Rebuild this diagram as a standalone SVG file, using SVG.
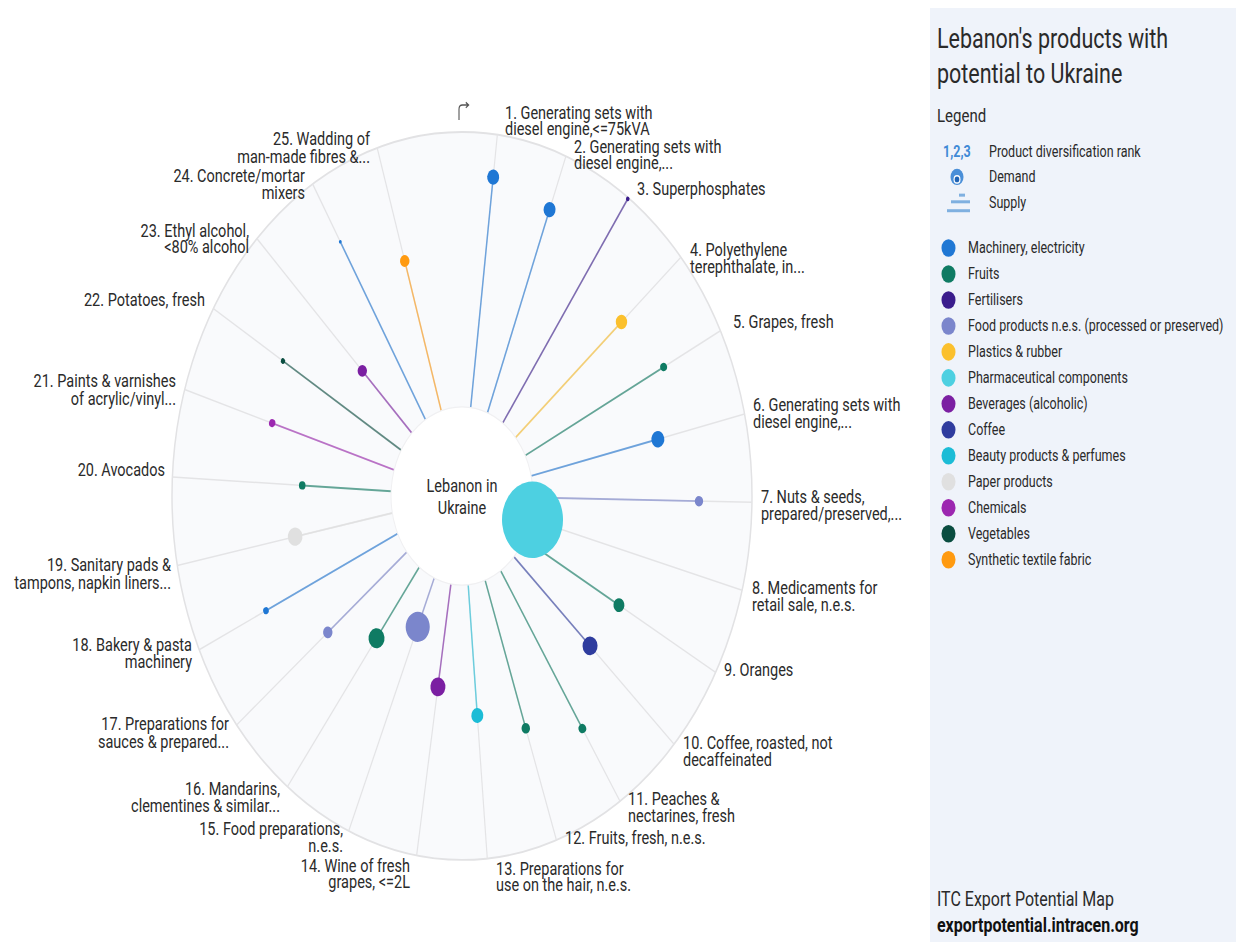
<svg xmlns="http://www.w3.org/2000/svg" width="1236" height="942" viewBox="0 0 1236 942">
<style>
text{font-family:Roboto,"Liberation Sans",sans-serif;fill:#2a2a2a}
.lb{font-size:14.5px}
.le{text-anchor:end}
.lg{font-size:12.5px}
.sp{stroke:#e4e4e6;stroke-width:1.2}
.ln{stroke-width:1.5;stroke-opacity:.6;fill:none}
.mach{fill:#1f77d4;stroke:#1f77d4}
.fruit{fill:#0f7b63;stroke:#0f7b63}
.fert{fill:#3a1c8c;stroke:#3a1c8c}
.food{fill:#7b86cc;stroke:#7b86cc}
.plas{fill:#fbc02d;stroke:#fbc02d}
.pharma{fill:#4dd0e1;stroke:#4dd0e1}
.bev{fill:#7b1fa2;stroke:#7b1fa2}
.coffee{fill:#2f3c9e;stroke:#2f3c9e}
.beauty{fill:#1cbcd6;stroke:#1cbcd6}
.paper{fill:#e0e0e0;stroke:#e0e0e0}
.chem{fill:#9c27b0;stroke:#9c27b0}
.veg{fill:#0a4d40;stroke:#0a4d40}
.synth{fill:#ff9a10;stroke:#ff9a10}
circle.d{stroke:none}
</style>
<rect width="1236" height="942" fill="#ffffff"/>
<g transform="scale(1 1.255)">
  <!-- legend panel -->
  <rect x="930" y="6.4" width="306" height="745" fill="#eff3fa"/>
  <g id="legend">
    <text x="937" y="38.2" font-size="21.5">Lebanon's products with</text>
    <text x="937" y="66.1" font-size="21.5">potential to Ukraine</text>
    <text x="937" y="97.2" font-size="15">Legend</text>
    <text x="943" y="125.1" class="lg" font-weight="bold" style="fill:#3f8ad6">1,2,3</text>
    <text x="989" y="125.1" class="lg">Product diversification rank</text>
    <circle cx="957" cy="141" r="6.5" fill="#4a8fd8"/>
    <circle cx="957" cy="143" r="3.5" fill="#ffffff"/>
    <circle cx="957" cy="143" r="2.3" fill="#1f63b4"/>
    <text x="989" y="145" class="lg">Demand</text>
    <g stroke="#7fb0e0" stroke-width="2.4">
      <line x1="959" y1="155.5" x2="965" y2="155.5"/>
      <line x1="951" y1="160.8" x2="970" y2="160.8"/>
      <line x1="947" y1="167.9" x2="970" y2="167.9"/>
    </g>
    <text x="989" y="165.7" class="lg">Supply</text>
    <circle class="d mach" cx="948.5" cy="197.6" r="7"/><text x="968" y="201.9" class="lg">Machinery, electricity</text>
    <circle class="d fruit" cx="948.5" cy="218.3" r="7"/><text x="968" y="222.6" class="lg">Fruits</text>
    <circle class="d fert" cx="948.5" cy="239" r="7"/><text x="968" y="243.3" class="lg">Fertilisers</text>
    <circle class="d food" cx="948.5" cy="259.7" r="7"/><text x="968" y="264" class="lg">Food products n.e.s. (processed or preserved)</text>
    <circle class="d plas" cx="948.5" cy="280.4" r="7"/><text x="968" y="284.7" class="lg">Plastics &amp; rubber</text>
    <circle class="d pharma" cx="948.5" cy="301.1" r="7"/><text x="968" y="305.4" class="lg">Pharmaceutical components</text>
    <circle class="d bev" cx="948.5" cy="321.8" r="7"/><text x="968" y="326.1" class="lg">Beverages (alcoholic)</text>
    <circle class="d coffee" cx="948.5" cy="342.5" r="7"/><text x="968" y="346.8" class="lg">Coffee</text>
    <circle class="d beauty" cx="948.5" cy="363.2" r="7"/><text x="968" y="367.5" class="lg">Beauty products &amp; perfumes</text>
    <circle class="d paper" cx="948.5" cy="383.9" r="7"/><text x="968" y="388.2" class="lg">Paper products</text>
    <circle class="d chem" cx="948.5" cy="404.6" r="7"/><text x="968" y="408.9" class="lg">Chemicals</text>
    <circle class="d veg" cx="948.5" cy="425.3" r="7"/><text x="968" y="429.6" class="lg">Vegetables</text>
    <circle class="d synth" cx="948.5" cy="446" r="7"/><text x="968" y="450.3" class="lg">Synthetic textile fabric</text>
    <text x="937" y="721.9" font-size="16">ITC Export Potential Map</text>
    <text x="937" y="742.6" font-size="16" font-weight="bold" style="fill:#111">exportpotential.intracen.org</text>
  </g>

  <!-- chart base -->
  <circle cx="462" cy="395.2" r="290" fill="#f9fafc" stroke="#e2e2e4" stroke-width="1.5"/>
  <path d="M459 95.6 V87 Q459 83.7 462.5 83.7 H468 M465.8 81.6 L468.6 83.7 L465.8 85.8" fill="none" stroke="#555" stroke-width="1.1"/>

  <g id="connectors" transform="translate(462 395.2)">
    <line class="sp" transform="rotate(7)" y1="-71" y2="-290"/>
    <line class="sp" transform="rotate(21)" y1="-71" y2="-290"/>
    <line class="sp" transform="rotate(35)" y1="-71" y2="-290"/>
    <line class="sp" transform="rotate(49)" y1="-71" y2="-290"/>
    <line class="sp" transform="rotate(63)" y1="-71" y2="-290"/>
    <line class="sp" transform="rotate(77)" y1="-71" y2="-290"/>
    <line class="sp" transform="rotate(91)" y1="-71" y2="-290"/>
    <line class="sp" transform="rotate(105)" y1="-71" y2="-290"/>
    <line class="sp" transform="rotate(119)" y1="-71" y2="-290"/>
    <line class="sp" transform="rotate(133)" y1="-71" y2="-290"/>
    <line class="sp" transform="rotate(147)" y1="-71" y2="-290"/>
    <line class="sp" transform="rotate(161)" y1="-71" y2="-290"/>
    <line class="sp" transform="rotate(175)" y1="-71" y2="-290"/>
    <line class="sp" transform="rotate(189)" y1="-71" y2="-290"/>
    <line class="sp" transform="rotate(203)" y1="-71" y2="-290"/>
    <line class="sp" transform="rotate(217)" y1="-71" y2="-290"/>
    <line class="sp" transform="rotate(231)" y1="-71" y2="-290"/>
    <line class="sp" transform="rotate(245)" y1="-71" y2="-290"/>
    <line class="sp" transform="rotate(259)" y1="-71" y2="-290"/>
    <line class="sp" transform="rotate(273)" y1="-71" y2="-290"/>
    <line class="sp" transform="rotate(287)" y1="-71" y2="-290"/>
    <line class="sp" transform="rotate(301)" y1="-71" y2="-290"/>
    <line class="sp" transform="rotate(315)" y1="-71" y2="-290"/>
    <line class="sp" transform="rotate(329)" y1="-71" y2="-290"/>
    <line class="sp" transform="rotate(343)" y1="-71" y2="-290"/>

    <line class="ln mach" transform="rotate(7)" y1="-71" y2="-256"/>
    <line class="ln mach" transform="rotate(21)" y1="-71" y2="-244.4"/>
    <line class="ln fert" transform="rotate(35)" y1="-71" y2="-289"/>
    <line class="ln plas" transform="rotate(49)" y1="-71" y2="-211.3"/>
    <line class="ln fruit" transform="rotate(63)" y1="-71" y2="-226.3"/>
    <line class="ln mach" transform="rotate(77)" y1="-71" y2="-201"/>
    <line class="ln food" transform="rotate(91)" y1="-71" y2="-237"/>
    <line class="ln fruit" transform="rotate(119)" y1="-71" y2="-179.4"/>
    <line class="ln coffee" transform="rotate(133)" y1="-71" y2="-175.1"/>
    <line class="ln fruit" transform="rotate(147)" y1="-71" y2="-221"/>
    <line class="ln fruit" transform="rotate(161)" y1="-71" y2="-195.8"/>
    <line class="ln beauty" transform="rotate(175)" y1="-71" y2="-175.6"/>
    <line class="ln bev" transform="rotate(189)" y1="-71" y2="-154"/>
    <line class="ln food" transform="rotate(203)" y1="-71" y2="-113.3"/>
    <line class="ln fruit" transform="rotate(217)" y1="-71" y2="-142"/>
    <line class="ln food" transform="rotate(231)" y1="-71" y2="-172.7"/>
    <line class="ln mach" transform="rotate(245)" y1="-71" y2="-216.3"/>
    <line class="ln paper" transform="rotate(259)" y1="-71" y2="-170"/>
    <line class="ln fruit" transform="rotate(273)" y1="-71" y2="-160"/>
    <line class="ln chem" transform="rotate(287)" y1="-71" y2="-198.5"/>
    <line class="ln veg" transform="rotate(301)" y1="-71" y2="-208.8"/>
    <line class="ln bev" transform="rotate(315)" y1="-71" y2="-141"/>
    <line class="ln mach" transform="rotate(329)" y1="-71" y2="-236.3"/>
    <line class="ln synth" transform="rotate(343)" y1="-71" y2="-195.8"/>
  </g>

  <g id="center">
    <circle cx="462" cy="395.2" r="71" fill="#ffffff" stroke="#f0f0f2" stroke-width="1"/>
    <text class="lb" x="462" y="392" text-anchor="middle">Lebanon in<tspan x="462" y="409.6">Ukraine</tspan></text>
  </g>

  <g id="n1"><circle class="d mach" transform="translate(462 395.2) rotate(7)" cy="-256" r="6"/><text class="lb" x="505" y="94.8">1. Generating sets with<tspan x="505" y="107.6">diesel engine,&lt;=75kVA</tspan></text></g>
  <g id="n2"><circle class="d mach" transform="translate(462 395.2) rotate(21)" cy="-244.4" r="6"/><text class="lb" x="574" y="121.9">2. Generating sets with<tspan x="574" y="134.7">diesel engine,...</tspan></text></g>
  <g id="n3"><circle class="d fert" transform="translate(462 395.2) rotate(35)" cy="-289" r="1.8"/><text class="lb" x="637" y="155.4">3. Superphosphates</text></g>
  <g id="n4"><circle class="d plas" transform="translate(462 395.2) rotate(49)" cy="-211.3" r="5.7"/><text class="lb" x="690" y="204">4. Polyethylene<tspan x="690" y="217.5">terephthalate, in...</tspan></text></g>
  <g id="n5"><circle class="d fruit" transform="translate(462 395.2) rotate(63)" cy="-226.3" r="3.4"/><text class="lb" x="733" y="261.4">5. Grapes, fresh</text></g>
  <g id="n6"><circle class="d mach" transform="translate(462 395.2) rotate(77)" cy="-201" r="6.5"/><text class="lb" x="753" y="327.5">6. Generating sets with<tspan x="753" y="341">diesel engine,...</tspan></text></g>
  <g id="n7"><circle class="d food" transform="translate(462 395.2) rotate(91)" cy="-237" r="4.2"/><text class="lb" x="761" y="400.8">7. Nuts &amp; seeds,<tspan x="761" y="414.3">prepared/preserved,...</tspan></text></g>
  <g id="n8"><circle class="d pharma" transform="translate(462 395.2) rotate(105)" cy="-73" r="30.5"/><text class="lb" x="752" y="473.3">8. Medicaments for<tspan x="752" y="486.9">retail sale, n.e.s.</tspan></text></g>
  <g id="n9"><circle class="d fruit" transform="translate(462 395.2) rotate(119)" cy="-179.4" r="5.5"/><text class="lb" x="724" y="538.6">9. Oranges</text></g>
  <g id="n10"><circle class="d coffee" transform="translate(462 395.2) rotate(133)" cy="-175.1" r="7.5"/><text class="lb" x="683" y="596.8">10. Coffee, roasted, not<tspan x="683" y="610.4">decaffeinated</tspan></text></g>
  <g id="n11"><circle class="d fruit" transform="translate(462 395.2) rotate(147)" cy="-221" r="3.8"/><text class="lb" x="628" y="641.4">11. Peaches &amp;<tspan x="628" y="655">nectarines, fresh</tspan></text></g>
  <g id="n12"><circle class="d fruit" transform="translate(462 395.2) rotate(161)" cy="-195.8" r="4.2"/><text class="lb" x="565" y="672.5">12. Fruits, fresh, n.e.s.</text></g>
  <g id="n13"><circle class="d beauty" transform="translate(462 395.2) rotate(175)" cy="-175.6" r="6"/><text class="lb" x="496" y="697.2">13. Preparations for<tspan x="496" y="710">use on the hair, n.e.s.</tspan></text></g>
  <g id="n14"><circle class="d bev" transform="translate(462 395.2) rotate(189)" cy="-154" r="7.5"/><text class="lb le" x="410" y="694.8">14. Wine of fresh<tspan x="410" y="707.6">grapes, &lt;=2L</tspan></text></g>
  <g id="n15"><circle class="d food" transform="translate(462 395.2) rotate(203)" cy="-113.3" r="12"/><text class="lb le" x="343" y="665.3">15. Food preparations,<tspan x="343" y="678.9">n.e.s.</tspan></text></g>
  <g id="n16"><circle class="d fruit" transform="translate(462 395.2) rotate(217)" cy="-142" r="8"/><text class="lb le" x="280" y="633.5">16. Mandarins,<tspan x="280" y="647">clementines &amp; similar...</tspan></text></g>
  <g id="n17"><circle class="d food" transform="translate(462 395.2) rotate(231)" cy="-172.7" r="4.7"/><text class="lb le" x="229" y="581.7">17. Preparations for<tspan x="229" y="596">sauces &amp; prepared...</tspan></text></g>
  <g id="n18"><circle class="d mach" transform="translate(462 395.2) rotate(245)" cy="-216.3" r="2.8"/><text class="lb le" x="192" y="518.7">18. Bakery &amp; pasta<tspan x="192" y="532.3">machinery</tspan></text></g>
  <g id="n19"><circle class="d paper" transform="translate(462 395.2) rotate(259)" cy="-170" r="7.3"/><text class="lb le" x="171" y="455">19. Sanitary pads &amp;<tspan x="171" y="469.3">tampons, napkin liners...</tspan></text></g>
  <g id="n20"><circle class="d fruit" transform="translate(462 395.2) rotate(273)" cy="-160" r="3.3"/><text class="lb le" x="165" y="379.3">20. Avocados</text></g>
  <g id="n21"><circle class="d chem" transform="translate(462 395.2) rotate(287)" cy="-198.5" r="3.2"/><text class="lb le" x="176" y="308.4">21. Paints &amp; varnishes<tspan x="176" y="322.7">of acrylic/vinyl...</tspan></text></g>
  <g id="n22"><circle class="d veg" transform="translate(462 395.2) rotate(301)" cy="-208.8" r="2.2"/><text class="lb le" x="205" y="243.8">22. Potatoes, fresh</text></g>
  <g id="n23"><circle class="d bev" transform="translate(462 395.2) rotate(315)" cy="-141" r="4.7"/><text class="lb le" x="249" y="188.8">23. Ethyl alcohol,<tspan x="249" y="201.6">&lt;80% alcohol</tspan></text></g>
  <g id="n24"><circle class="d mach" transform="translate(462 395.2) rotate(329)" cy="-236.3" r="1.4"/><text class="lb le" x="305" y="145">24. Concrete/mortar<tspan x="305" y="158.6">mixers</tspan></text></g>
  <g id="n25"><circle class="d synth" transform="translate(462 395.2) rotate(343)" cy="-195.8" r="4.7"/><text class="lb le" x="370" y="115.5">25. Wadding of<tspan x="370" y="129.9">man-made fibres &amp;...</tspan></text></g>
</g>
</svg>
